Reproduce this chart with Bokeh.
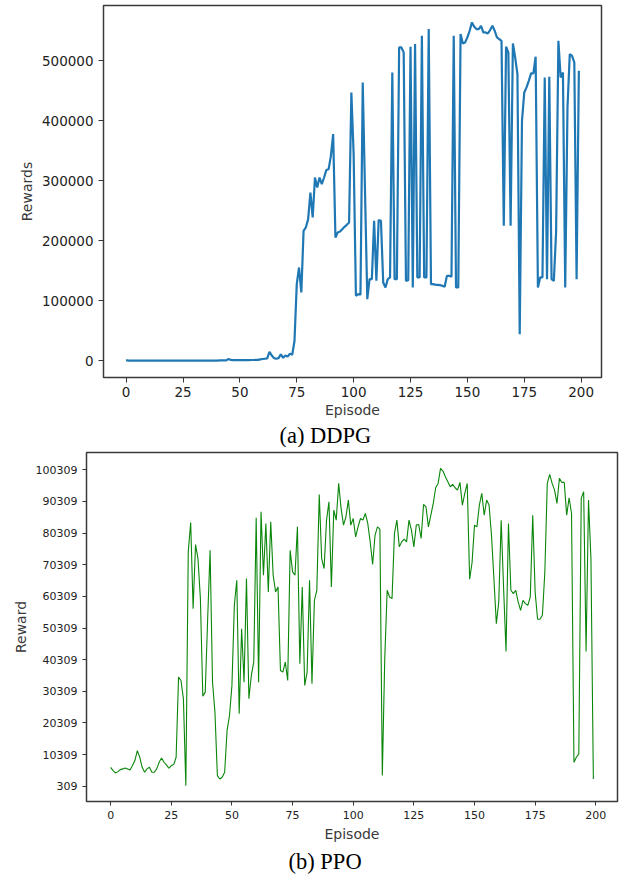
from bokeh.plotting import figure
from bokeh.models import FixedTicker, NumeralTickFormatter, Range1d, Title
from bokeh.embed import file_html
from bokeh.resources import INLINE

episodes = list(range(200))

ddpg_rewards = [
    1200, 400, 500, 450, 500, 500, 450, 500, 500, 450,
    500, 500, 450, 500, 500, 500, 450, 500, 500, 500,
    450, 500, 500, 500, 450, 500, 500, 500, 450, 500,
    500, 500, 450, 500, 500, 500, 450, 500, 500, 500,
    500, 600, 600, 700, 800, 3000, 1500, 1200, 1200, 1200,
    1200, 1200, 1300, 1300, 1300, 1400, 1400, 1500, 1500, 2500,
    3000, 3500, 4000, 15000, 9000, 4500, 3500, 4500, 11000, 5000,
    9000, 7000, 12000, 10000, 33000, 127800, 155500, 113900, 216600, 222200,
    236100, 280500, 238900, 305500, 288900, 305500, 294400, 305500, 317800, 319400,
    341600, 377800, 205500, 213900, 215500, 219400, 223300, 226600, 230500, 447200,
    344400, 108300, 111100, 110000, 463900, 283000, 102800, 136100, 136100, 233300,
    133300, 234400, 233300, 130500, 122200, 136100, 138900, 480500, 136100, 136100,
    522200, 522200, 513900, 133300, 134400, 523300, 122200, 527800, 138900, 138900,
    541700, 138900, 138900, 552800, 127800, 127800, 126700, 126700, 126100, 125000,
    123300, 141600, 141600, 140000, 541700, 122200, 122200, 544400, 528900, 530600,
    538900, 550000, 563900, 556700, 552800, 552800, 558300, 547200, 547200, 545600,
    551100, 558300, 550000, 538900, 536100, 533300, 225000, 523300, 513900, 225000,
    528900, 505600, 477800, 44400, 400000, 447200, 455600, 466700, 478900, 478900,
    506700, 122200, 138900, 138900, 472200, 136100, 473300, 136100, 133300, 215000,
    533300, 472200, 480500, 122200, 422200, 511100, 508300, 497200, 136100, 483300,
]

ppo_rewards = [
    6300, 5260, 4520, 4940, 5570, 5800, 6100, 5800, 5470, 6840,
    8420, 11590, 9480, 6300, 4730, 5800, 6300, 4730, 4730, 5800,
    7900, 9270, 7900, 7050, 6000, 6840, 7160, 9480, 34800, 33740,
    27940, 510, 74360, 83640, 56420, 76680, 72250, 59600, 28780, 30050,
    53260, 74900, 33200, 23720, 3680, 2620, 3150, 4730, 17900, 22670,
    32100, 57480, 65400, 23200, 50100, 33200, 65920, 27940, 35320, 39550,
    85120, 33200, 87020, 66970, 83330, 61700, 83850, 67000, 61700, 63300,
    36900, 36380, 39550, 33740, 74890, 68030, 66970, 82270, 39020, 63280,
    32160, 36380, 65400, 32690, 59060, 62230, 92500, 72250, 69090, 84380,
    90190, 63280, 87550, 84380, 95990, 88080, 82800, 85440, 90710, 82800,
    84910, 79110, 82270, 84910, 84380, 86490, 83330, 77530, 70350, 79640,
    82270, 81530, 3680, 40600, 62230, 60120, 59590, 80160, 84380, 75940,
    77530, 78370, 77530, 84380, 81210, 75940, 82800, 83010, 78580, 89340,
    88600, 82270, 85960, 89660, 94620, 95990, 100740, 99890, 98100, 96520,
    94930, 95670, 94620, 93880, 96300, 89130, 92820, 95990, 65700, 71000,
    82800, 82270, 89130, 92820, 85960, 90710, 89130, 79700, 65920, 51680,
    58540, 84380, 62760, 42920, 83330, 62230, 61170, 62230, 58540, 55900,
    59060, 58010, 57480, 60120, 85960, 61700, 53050, 53050, 54320, 68030,
    95990, 98840, 95990, 93880, 89660, 97570, 96300, 96300, 85960, 91450,
    86490, 7900, 9480, 10540, 91240, 93350, 42920, 90710, 72250, 2620,
]

x_ticks = [0, 25, 50, 75, 100, 125, 150, 175, 200]
ddpg_y_ticks = [0, 100000, 200000, 300000, 400000, 500000]
ppo_y_ticks = [309, 10309, 20309, 30309, 40309, 50309, 60309, 70309, 80309, 90309, 100309]

captions = ["(a) DDPG", "(b) PPO"]
x_label = "Episode"
y_labels = ["Rewards", "Reward"]


def padded(vals):
    lo, hi = min(vals), max(vals)
    m = 0.05 * (hi - lo)
    return lo - m, hi + m


def style(p, tick_size, tick_len, lab_standoff, ax_standoff):
    p.outline_line_color = "#3a3a3a"
    p.outline_line_width = 1.5
    p.xgrid.visible = False
    p.ygrid.visible = False
    for ax in (p.xaxis[0], p.yaxis[0]):
        ax.axis_line_color = None
        ax.minor_tick_line_color = None
        ax.major_tick_in = 0
        ax.major_tick_out = tick_len
        ax.major_tick_line_color = "#333333"
        ax.major_tick_line_width = 1
        ax.major_label_text_font = "DejaVu Sans"
        ax.major_label_text_font_size = tick_size
        ax.major_label_text_color = "#222222"
        ax.major_label_standoff = 5
        ax.axis_label_text_font = "DejaVu Sans"
        ax.axis_label_text_font_size = "14px"
        ax.axis_label_text_font_style = "normal"
        ax.axis_label_text_color = "#3a3a3a"
        ax.axis_label_standoff = 4
    p.xaxis[0].major_label_standoff = lab_standoff
    p.xaxis[0].axis_label_standoff = ax_standoff


xr = padded(episodes)

# ---- top: DDPG ----
y0, y1 = padded(ddpg_rewards)
p1 = figure(frame_width=498, frame_height=372, min_border_left=103, min_border_right=21,
            min_border_top=5, min_border_bottom=60,
            x_range=Range1d(*xr), y_range=Range1d(y0, y1),
            output_backend="svg", toolbar_location=None, background_fill_color="white")
p1.line(episodes, ddpg_rewards, line_color="#1f77b4", line_width=2.2)
p1.xaxis.ticker = FixedTicker(ticks=x_ticks)
p1.yaxis.ticker = FixedTicker(ticks=ddpg_y_ticks)
p1.yaxis.formatter = NumeralTickFormatter(format="0")
p1.xaxis.axis_label = x_label
p1.yaxis.axis_label = y_labels[0]
style(p1, "13.5px", 5, 4, 2)
t1 = Title(text=captions[0], align="left", text_font="Liberation Serif",
           text_font_size="22.5px", text_font_style="normal", text_color="black",
           offset=176, standoff=0)
p1.add_layout(t1, "below")

# ---- bottom: PPO ----
z0, z1 = padded(ppo_rewards)
p2 = figure(frame_width=531, frame_height=349, min_border_left=86, min_border_right=5,
            min_border_top=5, min_border_bottom=60,
            x_range=Range1d(*xr), y_range=Range1d(z0, z1),
            output_backend="svg", toolbar_location=None, background_fill_color="white")
p2.line(episodes, ppo_rewards, line_color="#0a860a", line_width=1.1)
p2.xaxis.ticker = FixedTicker(ticks=x_ticks)
p2.yaxis.ticker = FixedTicker(ticks=ppo_y_ticks)
p2.yaxis.formatter = NumeralTickFormatter(format="0")
p2.xaxis.axis_label = x_label
p2.yaxis.axis_label = y_labels[1]
style(p2, "11px", 4, 5, 4)
t2 = Title(text=captions[1], align="left", text_font="Liberation Serif",
           text_font_size="22.5px", text_font_style="normal", text_color="black",
           offset=202, standoff=5)
p2.add_layout(t2, "below")

open("out.html", "w").write(file_html([p1, p2], INLINE))
